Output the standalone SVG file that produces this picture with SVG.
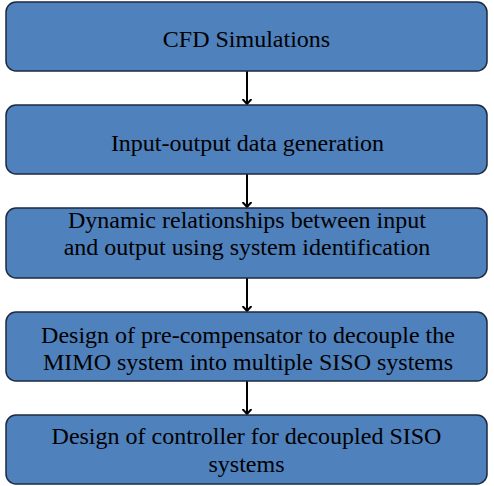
<svg xmlns="http://www.w3.org/2000/svg" width="494" height="486" viewBox="0 0 494 486">
<style>
.box{fill:#4F81BD;stroke:#1c2a40;stroke-width:1.5}
.c{stroke:#000;stroke-width:2;fill:none}
.t{font-family:'Liberation Serif','Times New Roman',serif;font-size:24px;fill:#000;text-anchor:middle}
</style>
<defs>
<marker id="ah" markerWidth="10" markerHeight="10" refX="5" refY="5" orient="auto" markerUnits="userSpaceOnUse" viewBox="0 0 10 10">
<path d="M0,0.5 L5,5 L0,9.5" fill="none" stroke="#000" stroke-width="2"/>
</marker>
</defs>
<rect width="494" height="486" fill="#fff"/>
<g id="connectors">
<line class="c" x1="247" y1="71" x2="247" y2="104" marker-end="url(#ah)"/>
<line class="c" x1="247" y1="174" x2="247" y2="207" marker-end="url(#ah)"/>
<line class="c" x1="247" y1="278" x2="247" y2="311" marker-end="url(#ah)"/>
<line class="c" x1="247" y1="381" x2="247" y2="414" marker-end="url(#ah)"/>
</g>
<g id="n1"><rect class="box" x="6" y="2" width="481" height="69" rx="10"/><text class="t" x="246.5" y="47">CFD Simulations</text></g>
<g id="n2"><rect class="box" x="6" y="105" width="481" height="69" rx="10"/><text class="t" x="247.5" y="151">Input-output data generation</text></g>
<g id="n3"><rect class="box" x="6" y="208" width="481" height="70" rx="10"/><text class="t" x="247" y="228">Dynamic relationships between input</text><text class="t" x="247" y="255">and output using system identification</text></g>
<g id="n4"><rect class="box" x="6" y="312" width="481" height="69" rx="10"/><text class="t" x="248" y="343">Design of pre-compensator to decouple the</text><text class="t" x="248" y="370">MIMO system into multiple SISO systems</text></g>
<g id="n5"><rect class="box" x="6" y="415" width="481" height="69" rx="10"/><text class="t" x="246.5" y="444">Design of controller for decoupled SISO</text><text class="t" x="246.5" y="472">systems</text></g>
</svg>
